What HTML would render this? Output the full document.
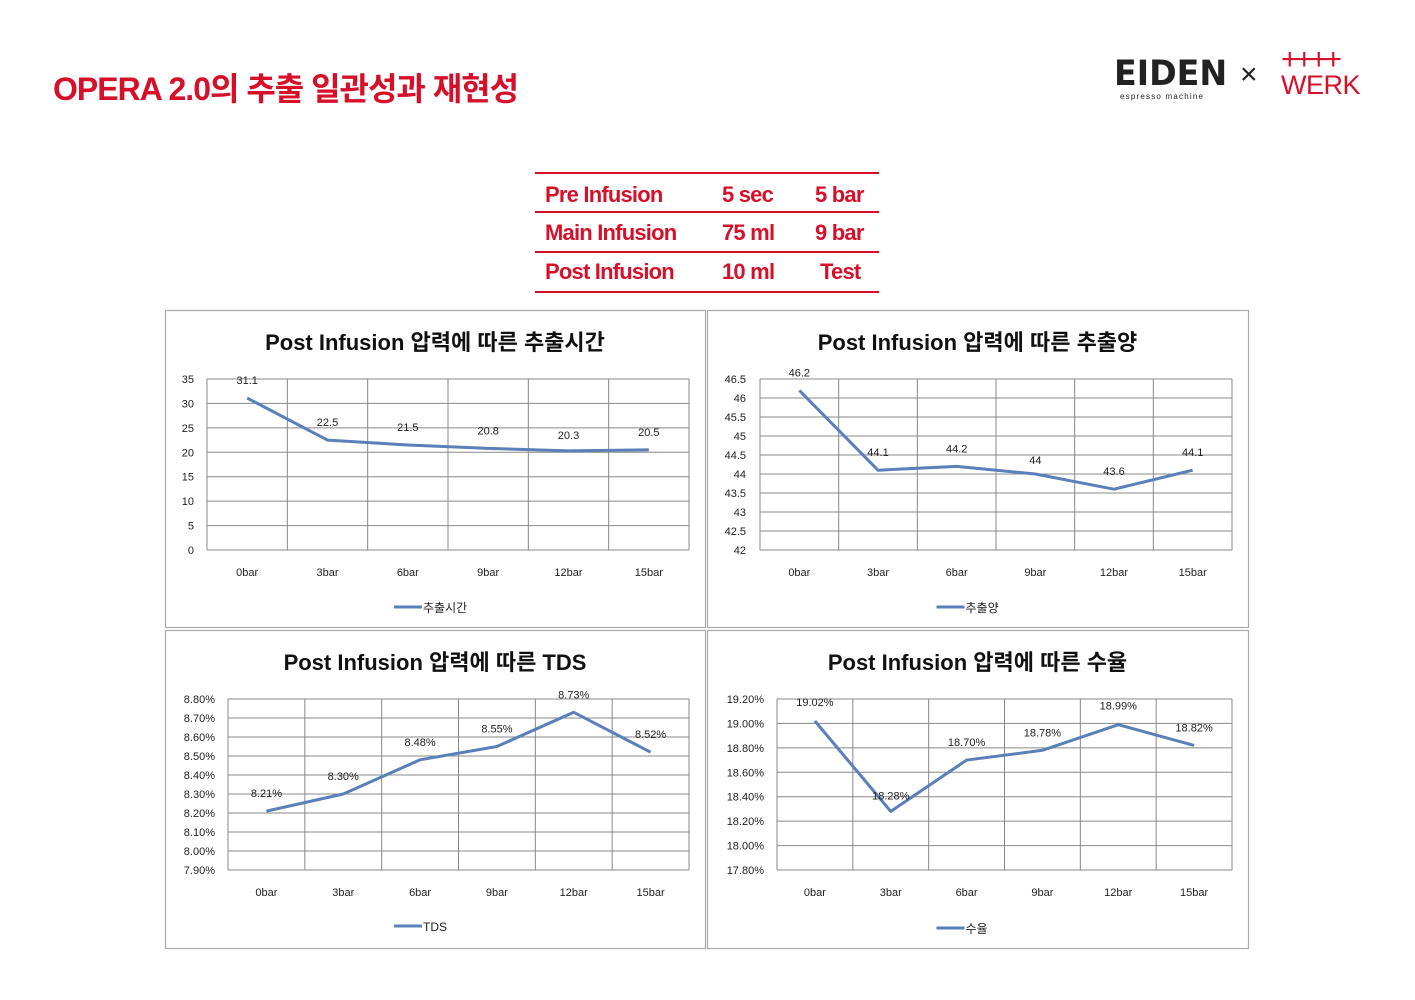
<!DOCTYPE html>
<html><head><meta charset="utf-8">
<style>
html,body{margin:0;padding:0;background:#fff;}
body{width:1415px;height:1000px;position:relative;overflow:hidden;font-family:"Liberation Sans","Noto Sans CJK KR",sans-serif;}
.abs{position:absolute;}
#title{left:53px;top:64px;font-size:32px;font-weight:bold;color:#d7102a;letter-spacing:-1px;white-space:nowrap;}
.cell{position:absolute;font-size:22px;font-weight:bold;color:#d7102a;letter-spacing:-0.8px;white-space:nowrap;}
.rl{position:absolute;left:535px;width:344px;height:2px;background:#d7102a;}
</style></head>
<body>
<div id="title" class="abs">OPERA 2.0의 추출 일관성과 재현성</div>
<div class="abs" style="left:1114px;top:56px;width:110px;">
  <div style="font-size:35px;font-weight:bold;color:#222;letter-spacing:0px;line-height:36px;font-family:'DejaVu Sans',sans-serif;transform:scaleX(0.95);transform-origin:left;">EIDEN</div>
  <div style="font-size:8px;color:#222;letter-spacing:1.2px;margin-left:6px;">espresso machine</div>
</div>
<div class="abs" style="left:1240px;top:58px;font-size:30px;color:#222;">×</div>
<div class="abs" style="left:1281px;top:48px;color:#d7102a;">
  <div style="font-size:30px;line-height:24px;letter-spacing:-3px;">++++</div>
  <div style="font-size:27px;line-height:26px;letter-spacing:-0.5px;">WERK</div>
</div>

<div>
<div class="rl" style="top:172px"></div><div class="rl" style="top:211px"></div><div class="rl" style="top:251px"></div><div class="rl" style="top:291px"></div>
<div class="cell" style="left:545px;top:182px">Pre Infusion</div><div class="cell" style="left:722px;top:182px">5 sec</div><div class="cell" style="left:815px;top:182px">5 bar</div>
<div class="cell" style="left:545px;top:220px">Main Infusion</div><div class="cell" style="left:722px;top:220px">75 ml</div><div class="cell" style="left:815px;top:220px">9 bar</div>
<div class="cell" style="left:545px;top:259px">Post Infusion</div><div class="cell" style="left:722px;top:259px">10 ml</div><div class="cell" style="left:820px;top:259px">Test</div>
</div>

<svg id="charts" class="abs" style="left:0;top:0" width="1415" height="1000"></svg>

<script>
const categories = ["0bar","3bar","6bar","9bar","12bar","15bar"];
const timeValues = [31.1,22.5,21.5,20.8,20.3,20.5];
const timeLabels = ["31.1","22.5","21.5","20.8","20.3","20.5"];
const timeTicks = [0,5,10,15,20,25,30,35];
const volValues = [46.2,44.1,44.2,44,43.6,44.1];
const volLabels = ["46.2","44.1","44.2","44","43.6","44.1"];
const volTicks = [42,42.5,43,43.5,44,44.5,45,45.5,46,46.5];
const tdsValues = [8.21,8.30,8.48,8.55,8.73,8.52];
const tdsLabels = ["8.21%","8.30%","8.48%","8.55%","8.73%","8.52%"];
const tdsTicks = [7.9,8.0,8.1,8.2,8.3,8.4,8.5,8.6,8.7,8.8];
const yieldValues = [19.02,18.28,18.70,18.78,18.99,18.82];
const yieldLabels = ["19.02%","18.28%","18.70%","18.78%","18.99%","18.82%"];
const yieldTicks = [17.8,18.0,18.2,18.4,18.6,18.8,19.0,19.2];

const NS="http://www.w3.org/2000/svg";
const svg=document.getElementById('charts');
function mk(tag,attrs,parent){const e=document.createElementNS(NS,tag);for(const k in attrs)e.setAttribute(k,attrs[k]);(parent||svg).appendChild(e);return e;}

function chart(cfg){
  const g=mk('g',{});
  
  
  const p=cfg.panel;
  const bg=mk('rect',{x:p[0]+0.5,y:p[1]+0.5,width:p[2]-p[0],height:p[3]-p[1],fill:'#fff',stroke:'#aaa','stroke-width':1.2},g);
  
  
  const t=mk('text',{x:(p[0]+p[2])/2,y:cfg.titleY,'text-anchor':'middle','font-size':22,'font-weight':'bold',fill:'#111','font-family':'"Liberation Sans","Noto Sans CJK KR",sans-serif'},g);
  t.textContent=cfg.title;
  
  
  const [x0,y0,x1,y1]=cfg.plot;
  const ticks=cfg.ticks, mn=ticks[0], mx=ticks[ticks.length-1];
  const ys=v=>y1-(v-mn)/(mx-mn)*(y1-y0);
  const n=categories.length, cw=(x1-x0)/n;
  const xs=i=>x0+cw*(i+0.5);
  ticks.forEach((v,i)=>{
    const l=mk('line',{x1:x0,x2:x1,y1:ys(v),y2:ys(v),stroke:'#888','stroke-width':1},g);
    
    
    const tt=mk('text',{x:cfg.tickX,y:ys(v)+4,'text-anchor':'end','font-size':11,fill:'#222'},g);
    tt.textContent=cfg.tickFmt(v);
    
    
  });
  for(let i=0;i<=n;i++){
    const l=mk('line',{x1:x0+cw*i,x2:x0+cw*i,y1:y0,y2:y1,stroke:'#888','stroke-width':1},g);
    
    
  }
  categories.forEach((c,i)=>{
    const tt=mk('text',{x:xs(i),y:y1+26,'text-anchor':'middle','font-size':11,fill:'#222'},g);
    tt.textContent=c;
    
    
  });
  const pts=cfg.values.map((v,i)=>xs(i)+','+ys(v)).join(' ');
  const pl=mk('polyline',{points:pts,fill:'none',stroke:'#5b7fb8','stroke-width':3,'stroke-linejoin':'round'},g);
  
  
  cfg.values.forEach((v,i)=>{
    const tt=mk('text',{x:xs(i),y:ys(v)-cfg.lblOff[i],'text-anchor':'middle','font-size':11,fill:'#222'},g);
    tt.textContent=cfg.labels[i];
    
    
  });
  const cx=(p[0]+p[2])/2;
  const ll=mk('line',{x1:cx-41,x2:cx-13,y1:cfg.legY,y2:cfg.legY,stroke:'#5b7fb8','stroke-width':3},g);
  
  
  const lt=mk('text',{x:cx-12,y:cfg.legY+5,'font-size':12,fill:'#222','font-family':'"Liberation Sans","Noto Sans CJK KR",sans-serif'},g);
  lt.textContent=cfg.legend;
  
  
}
chart({name:'extraction-time-chart',panel:[165,310,705,627],plot:[207,379,689,550],title:'Post Infusion 압력에 따른 추출시간',titleY:350,ticks:timeTicks,tickX:194,tickFmt:v=>String(v),values:timeValues,labels:timeLabels,lblOff:[14,14,14,14,12,14],legY:607,legend:'추출시간'});
chart({name:'extraction-volume-chart',panel:[707,310,1248,627],plot:[760,379,1232,550],title:'Post Infusion 압력에 따른 추출양',titleY:350,ticks:volTicks,tickX:746,tickFmt:v=>String(v),values:volValues,labels:volLabels,lblOff:[14,14,14,10,14,14],legY:607,legend:'추출양'});
chart({name:'tds-chart',panel:[165,630,705,948],plot:[228,699,689,870],title:'Post Infusion 압력에 따른 TDS',titleY:670,ticks:tdsTicks,tickX:215,tickFmt:v=>v.toFixed(2)+'%',values:tdsValues,labels:tdsLabels,lblOff:[14,14,14,14,14,14],legY:926,legend:'TDS'});
chart({name:'yield-chart',panel:[707,630,1248,948],plot:[777,699,1232,870],title:'Post Infusion 압력에 따른 수율',titleY:670,ticks:yieldTicks,tickX:764,tickFmt:v=>v.toFixed(2)+'%',values:yieldValues,labels:yieldLabels,lblOff:[15,12,14,14,15,14],legY:928,legend:'수율'});
</script>
</body></html>
